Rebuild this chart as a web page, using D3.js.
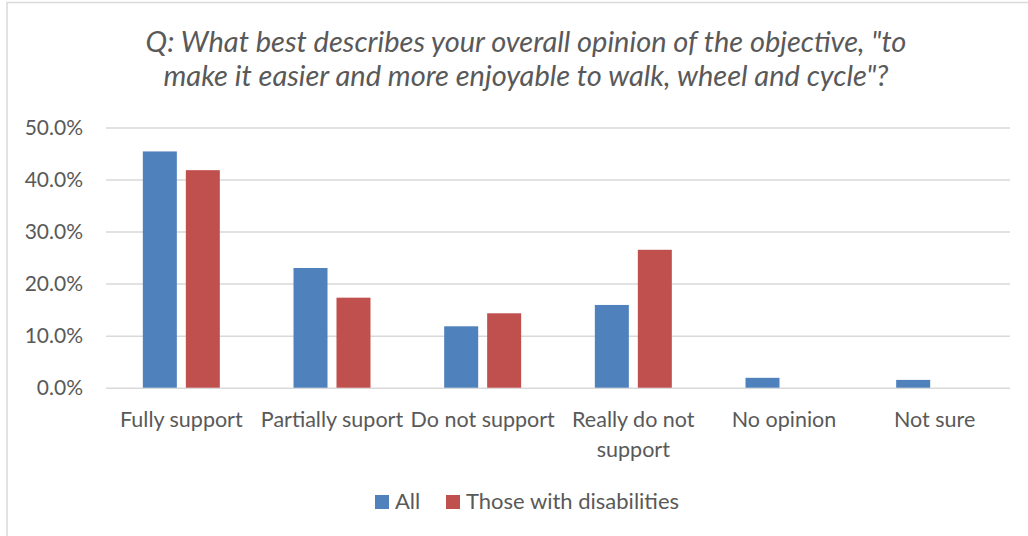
<!DOCTYPE html>
<html>
<head>
<meta charset="utf-8">
<script src="https://cdn.jsdelivr.net/npm/d3@7"></script>
<style>
  html, body { margin: 0; padding: 0; background: #fff; }
  svg { display: block; }
  text { font-family: Lato, "Open Sans", sans-serif; fill: #595959; }
</style>
</head>
<body>
<svg id="chart" width="1028" height="536"></svg>
<script>
// Survey responses (% of respondents)
const categories = ["Fully support", "Partially suport", "Do not support", "Really do not support", "No opinion", "Not sure"];
const categoryLines = [["Fully support"], ["Partially suport"], ["Do not support"], ["Really do not", "support"], ["No opinion"], ["Not sure"]];
const seriesNames = ["All", "Those with disabilities"];
const allValues = [45.4, 23.0, 11.8, 15.9, 1.9, 1.5];
const disabilityValues = [41.8, 17.3, 14.3, 26.5, 0, 0];
const yTicks = [0, 10, 20, 30, 40, 50];
const titleLines = [
  "Q: What best describes your overall opinion of the objective, \"to",
  "make it easier and more enjoyable to walk, wheel and cycle\"?"
];

const colors = ["#4F81BD", "#C0504D"];
const seriesValues = [allValues, disabilityValues];

const svg = d3.select("#chart");
const W = 1028, H = 536;
const plot = { left: 106, right: 1010, top: 127.5, bottom: 387.7 };

// chart frame
svg.append("rect")
  .attr("x", 7).attr("y", 2.5)
  .attr("width", W + 10).attr("height", H + 10)
  .attr("fill", "#fff").attr("stroke", "#D9D9D9").attr("stroke-width", 1.5);

// title
const title = svg.append("text")
  .attr("text-anchor", "middle")
  .style("font-style", "italic")
  .style("font-size", "29px");
titleLines.forEach((line, i) => {
  title.append("tspan").attr("x", 526).attr("y", 52 + i * 33.5).text(line);
});

const x0 = d3.scaleBand().domain(categories).range([plot.left, plot.right]).padding(0);
const x1 = d3.scaleBand().domain(seriesNames).range([0, x0.bandwidth()])
  .paddingInner(0.209).paddingOuter(0.857);
const y = d3.scaleLinear().domain([0, 50]).range([plot.bottom, plot.top]);

// gridlines + y axis labels
const yAxis = d3.axisLeft(y).tickValues(yTicks)
  .tickFormat(d => d3.format(".1f")(d) + "%")
  .tickSize(-(plot.right - plot.left)).tickPadding(23);
const gy = svg.append("g").attr("transform", `translate(${plot.left},0)`).call(yAxis);
gy.select(".domain").remove();
gy.selectAll(".tick line").attr("stroke", "#D9D9D9").attr("stroke-width", 1.5);
gy.selectAll(".tick text").style("font-size", "21px").attr("fill", "#595959").attr("font-family", null);

// bars
const groups = svg.append("g").selectAll("g")
  .data(categories)
  .join("g")
  .attr("transform", d => `translate(${x0(d)},0)`);
groups.selectAll("rect")
  .data((d, i) => seriesNames.map((s, j) => ({ s, v: seriesValues[j][i], c: colors[j] })))
  .join("rect")
  .attr("x", d => x1(d.s))
  .attr("width", x1.bandwidth())
  .attr("y", d => y(d.v))
  .attr("height", d => y(0) - y(d.v))
  .attr("fill", d => d.c);

// category labels
const xl = svg.append("g").selectAll("text")
  .data(categoryLines)
  .join("text")
  .attr("text-anchor", "middle")
  .style("font-size", "21.5px");
xl.each(function (lines, i) {
  const cx = x0(categories[i]) + x0.bandwidth() / 2;
  lines.forEach((ln, k) => {
    d3.select(this).append("tspan").attr("x", cx).attr("y", 426.5 + k * 30).text(ln);
  });
});

// legend
const legend = svg.append("g");
const legendX = [375, 446];
seriesNames.forEach((s, i) => {
  legend.append("rect").attr("x", legendX[i]).attr("y", 495).attr("width", 14).attr("height", 14).attr("fill", colors[i]);
  legend.append("text").attr("x", legendX[i] + 20).attr("y", 509).style("font-size", "22px").text(s);
});
</script>
</body>
</html>
